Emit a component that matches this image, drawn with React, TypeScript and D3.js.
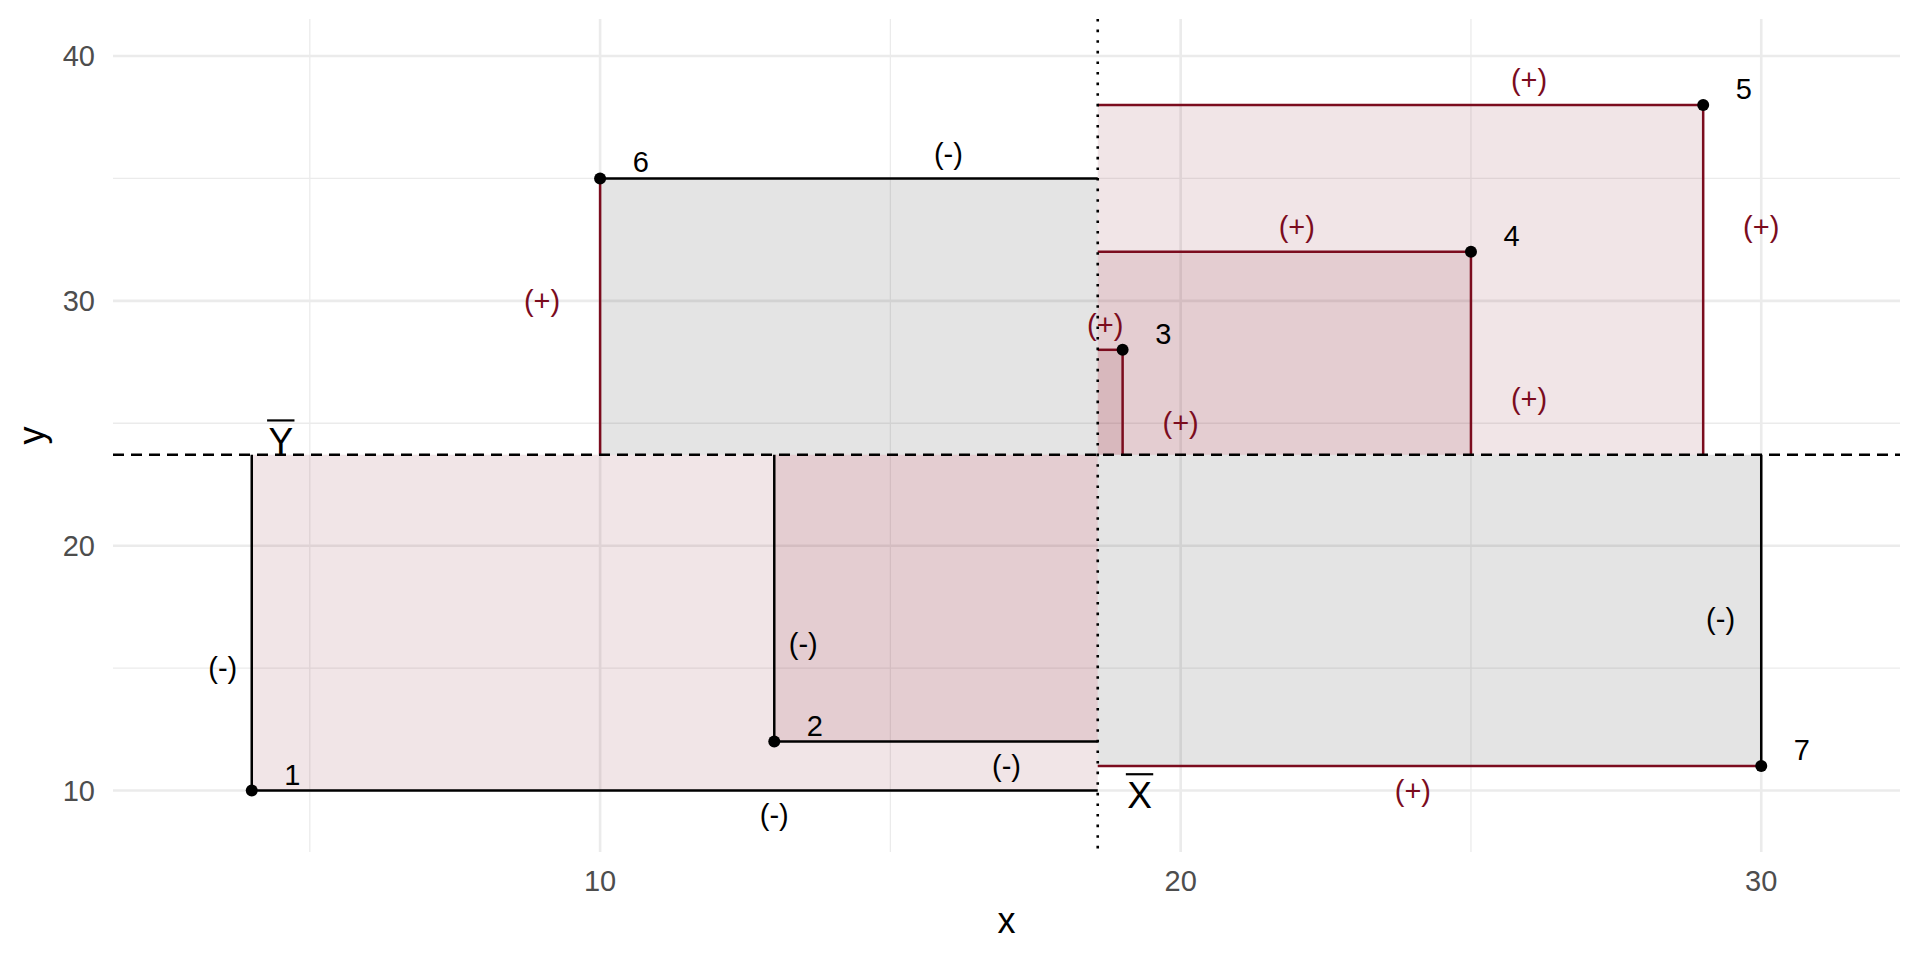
import React from 'react';
import * as d3 from 'd3';

// ---- data ----
const POINT_X = [4, 13, 19, 25, 29, 10, 30];
const POINT_Y = [10, 12, 28, 32, 38, 35, 11];
const POINT_IDS = ['1', '2', '3', '4', '5', '6', '7'];

// sign labels on horizontal sides (x deviation) and vertical sides (y deviation)
const H_LABEL_X = [13, 17, 18.7, 22, 26, 16, 24];
const H_LABEL_Y = [9, 11, 29, 33, 39, 36, 10];
const V_LABEL_X = [3.5, 13.5, 20, 26, 30, 9, 29.3];
const V_LABEL_Y = [15, 16, 25, 26, 33, 30, 17];

const X_TICKS = [10, 20, 30];
const Y_TICKS = [10, 20, 30, 40];
const X_MINOR = [5, 15, 25];
const Y_MINOR = [15, 25, 35];

const X_DOMAIN = [1.61, 32.39];
const Y_DOMAIN = [7.49, 41.51];

// mean-label anchors
const YBAR_LABEL_X = 4.5;
const XBAR_LABEL_OFFSET = 0.72;
const XBAR_LABEL_Y = 10;

// ---- styles ----
const W = 1920;
const H = 960;
const PANEL = { left: 113, right: 1900, top: 19, bottom: 852 };
const RED = '#7B0C1E';
const FONT = '"Liberation Sans", Arial, Helvetica, sans-serif';

function Overbar({ cx, baseline, text, fs }: { cx: number; baseline: number; text: string; fs: number }) {
  return (
    <g>
      <text x={cx} y={baseline} textAnchor="middle" fontSize={fs} fontFamily={FONT} fill="#000">
        {text}
      </text>
      <line x1={cx - 0.37 * fs} x2={cx + 0.37 * fs} y1={baseline - 0.9 * fs} y2={baseline - 0.9 * fs} stroke="#000" strokeWidth={2.2} />
    </g>
  );
}

export default function App() {
  const x = d3.scaleLinear().domain(X_DOMAIN).range([PANEL.left, PANEL.right]);
  const y = d3.scaleLinear().domain(Y_DOMAIN).range([PANEL.bottom, PANEL.top]);
  const mx = d3.mean(POINT_X) as number;
  const my = d3.mean(POINT_Y) as number;

  const pts = POINT_X.map((px, i) => {
    const py = POINT_Y[i];
    const dx = px - mx;
    const dy = py - my;
    return { px, py, i, dx, dy, prod: dx * dy };
  });

  const tickFs = 29;
  const labFs = 29;
  const titleFs = 36;

  return (
    <svg width={W} height={H} style={{ position: 'absolute', left: 0, top: 0, background: '#fff' }}>
      <rect x={0} y={0} width={W} height={H} fill="#fff" />
      {/* minor grid */}
      {X_MINOR.map((t) => (
        <line key={'xm' + t} x1={x(t)} x2={x(t)} y1={PANEL.top} y2={PANEL.bottom} stroke="#EBEBEB" strokeWidth={1.3} />
      ))}
      {Y_MINOR.map((t) => (
        <line key={'ym' + t} x1={PANEL.left} x2={PANEL.right} y1={y(t)} y2={y(t)} stroke="#EBEBEB" strokeWidth={1.3} />
      ))}
      {/* major grid */}
      {X_TICKS.map((t) => (
        <line key={'xM' + t} x1={x(t)} x2={x(t)} y1={PANEL.top} y2={PANEL.bottom} stroke="#EBEBEB" strokeWidth={2.6} />
      ))}
      {Y_TICKS.map((t) => (
        <line key={'yM' + t} x1={PANEL.left} x2={PANEL.right} y1={y(t)} y2={y(t)} stroke="#EBEBEB" strokeWidth={2.6} />
      ))}

      {/* rectangles */}
      {pts.map((p) => (
        <rect
          key={'r' + p.i}
          x={Math.min(x(p.px), x(mx))}
          y={Math.min(y(p.py), y(my))}
          width={Math.abs(x(p.px) - x(mx))}
          height={Math.abs(y(p.py) - y(my))}
          fill={p.prod > 0 ? RED : '#000'}
          fillOpacity={p.prod > 0 ? 0.105 : 0.105}
        />
      ))}

      {/* sides */}
      {pts.map((p) => (
        <g key={'s' + p.i}>
          <line x1={x(p.px)} x2={x(mx)} y1={y(p.py)} y2={y(p.py)} stroke={p.dx > 0 ? RED : '#000'} strokeWidth={2.5} />
          <line x1={x(p.px)} x2={x(p.px)} y1={y(p.py)} y2={y(my)} stroke={p.dy > 0 ? RED : '#000'} strokeWidth={2.5} />
        </g>
      ))}

      {/* mean lines */}
      <line x1={PANEL.left} x2={PANEL.right} y1={y(my)} y2={y(my)} stroke="#000" strokeWidth={2.3} strokeDasharray="11,7" />
      <line x1={x(mx)} x2={x(mx)} y1={PANEL.top} y2={PANEL.bottom} stroke="#000" strokeWidth={2.6} strokeDasharray="2.6,8" />

      {/* points */}
      {pts.map((p) => (
        <circle key={'c' + p.i} cx={x(p.px)} cy={y(p.py)} r={6} fill="#000" />
      ))}

      {/* sign labels */}
      {pts.map((p) => (
        <g key={'l' + p.i} fontFamily={FONT} fontSize={labFs} textAnchor="middle" dominantBaseline="central">
          <text x={x(H_LABEL_X[p.i])} y={y(H_LABEL_Y[p.i])} fill={p.dx > 0 ? RED : '#000'}>
            {p.dx > 0 ? '(+)' : '(-)'}
          </text>
          <text x={x(V_LABEL_X[p.i])} y={y(V_LABEL_Y[p.i])} fill={p.dy > 0 ? RED : '#000'}>
            {p.dy > 0 ? '(+)' : '(-)'}
          </text>
        </g>
      ))}

      {/* point ids */}
      {pts.map((p) => (
        <text
          key={'id' + p.i}
          x={x(p.px + 0.7)}
          y={y(p.py + 0.65)}
          fontFamily={FONT}
          fontSize={labFs}
          textAnchor="middle"
          dominantBaseline="central"
          fill="#000"
        >
          {POINT_IDS[p.i]}
        </text>
      ))}

      {/* mean labels */}
      <Overbar cx={x(YBAR_LABEL_X)} baseline={y(my) - 1} text="Y" fs={37} />
      <Overbar cx={x(mx + XBAR_LABEL_OFFSET)} baseline={y(XBAR_LABEL_Y) + 17} text="X" fs={37} />

      {/* axes tick labels */}
      {X_TICKS.map((t) => (
        <text key={'xt' + t} x={x(t)} y={881} textAnchor="middle" dominantBaseline="central" fontSize={tickFs} fontFamily={FONT} fill="#4D4D4D">
          {t}
        </text>
      ))}
      {Y_TICKS.map((t) => (
        <text key={'yt' + t} x={95} y={y(t)} textAnchor="end" dominantBaseline="central" fontSize={tickFs} fontFamily={FONT} fill="#4D4D4D">
          {t}
        </text>
      ))}

      {/* axis titles */}
      <text x={(PANEL.left + PANEL.right) / 2} y={933} textAnchor="middle" fontSize={titleFs} fontFamily={FONT} fill="#000">
        x
      </text>
      <text
        transform={`translate(44, ${(PANEL.top + PANEL.bottom) / 2}) rotate(-90)`}
        textAnchor="middle"
        fontSize={titleFs}
        fontFamily={FONT}
        fill="#000"
      >
        y
      </text>
    </svg>
  );
}
